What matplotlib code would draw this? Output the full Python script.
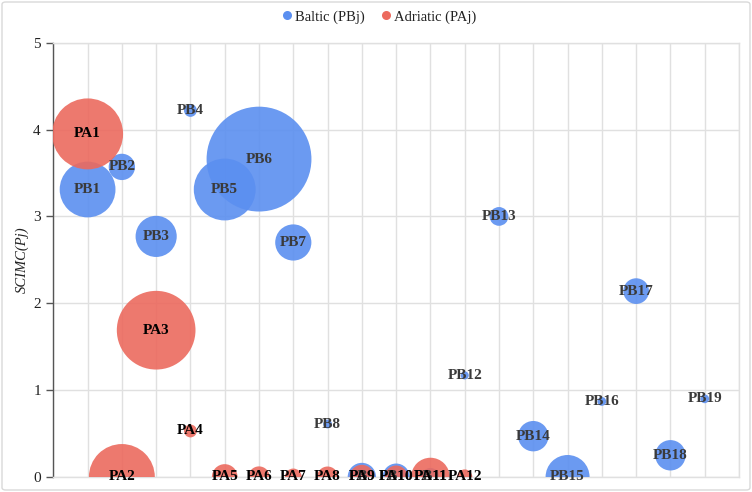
import matplotlib
matplotlib.use("Agg")
import matplotlib.pyplot as plt
from matplotlib.patches import FancyBboxPatch
from matplotlib.lines import Line2D

# Baltic series
baltic_labels = ["PB1", "PB2", "PB3", "PB4", "PB5", "PB6", "PB7", "PB8", "PB9", "PB10",
                 "PB11", "PB12", "PB13", "PB14", "PB15", "PB16", "PB17", "PB18", "PB19"]
baltic_x = list(range(1, 20))
baltic_y = [3.31, 3.57, 2.77, 4.22, 3.31, 3.66, 2.70, 0.61, 0.0, 0.0,
            0.0, 1.17, 3.00, 0.47, 0.0, 0.87, 2.14, 0.25, 0.90]
baltic_size = [28.3, 6.3, 15.4, 1.5, 34.8, 100.0, 11.9, 0.7, 7.3, 6.6,
               3.0, 0.6, 3.2, 8.4, 17.6, 0.7, 6.0, 8.4, 0.7]

# Adriatic series
adriatic_labels = ["PA1", "PA2", "PA3", "PA4", "PA5", "PA6", "PA7", "PA8", "PA9", "PA10",
                   "PA11", "PA12"]
adriatic_x = list(range(1, 13))
adriatic_y = [3.95, 0.0, 1.69, 0.53, 0.0, 0.0, 0.0, 0.0, 0.0, 0.0, 0.0, 0.0]
adriatic_size = [45.8, 39.5, 56.3, 1.5, 6.0, 4.1, 2.6, 4.0, 5.4, 4.8, 13.5, 2.1]

series_names = ["Baltic (PBj)", "Adriatic (PAj)"]
y_ticks = [0, 1, 2, 3, 4, 5]

blue = "#5B8FF0"
red = "#EC6A5E"
SCALE = 57.0
FAM = ["Liberation Serif", "DejaVu Serif"]

plt.rcParams['font.family'] = 'serif'
plt.rcParams['font.serif'] = ['Liberation Serif', 'DejaVu Serif']

fig = plt.figure(figsize=(7.52, 4.92), dpi=100)
ax = fig.add_axes([53.3 / 752, 15 / 492, (739 - 53.3) / 752, (477 - 42.7) / 492])

ax.scatter(baltic_x, baltic_y, s=[v * SCALE for v in baltic_size], color=blue,
           alpha=0.9, linewidths=0, zorder=3)
ax.scatter(adriatic_x, adriatic_y, s=[v * SCALE for v in adriatic_size], color=red,
           alpha=0.9, linewidths=0, zorder=4)

for lab, x, y in zip(baltic_labels, baltic_x, baltic_y):
    ax.text(x, y, lab, ha="center", va="center", fontsize=11, fontweight="bold",
            family=FAM, color="#3a3a3a", zorder=5, clip_on=False)
for lab, x, y in zip(adriatic_labels, adriatic_x, adriatic_y):
    ax.text(x, y, lab, ha="center", va="center", fontsize=11, fontweight="bold",
            family=FAM, color="#000000", zorder=6, clip_on=False)

ax.set_xlim(0, 20)
ax.set_ylim(0, 5)
ax.set_xticks(range(0, 21))
ax.set_xticklabels([])
ax.tick_params(axis="x", length=0)
ax.set_yticks(y_ticks)
ax.set_yticklabels([str(t) for t in y_ticks], fontsize=11, color="#222222", family=FAM)
ax.tick_params(axis="y", length=5, color="#555555", width=1, pad=4)
ax.grid(True, color="#e0e0e0", linewidth=1, zorder=0)
ax.set_axisbelow(True)
for side in ["top", "right", "bottom"]:
    ax.spines[side].set_color("#e0e0e0")
    ax.spines[side].set_linewidth(1)
ax.spines["left"].set_color("#555555")
ax.spines["left"].set_linewidth(1)
ax.set_ylabel("SCIMC(Pj)", fontsize=10.5, style="italic", color="#222222", labelpad=3,
              family=FAM)

handles = [Line2D([0], [0], marker="o", linestyle="", markersize=6.5, markerfacecolor=blue,
                  markeredgewidth=0),
           Line2D([0], [0], marker="o", linestyle="", markersize=6.5, markerfacecolor=red,
                  markeredgewidth=0)]
fig.legend(handles, series_names, loc="center", bbox_to_anchor=(378 / 752, 1 - 17 / 492),
           ncol=2, frameon=False, prop={"family": FAM, "size": 10.5}, handletextpad=0.05,
           columnspacing=0.9, handlelength=1.0, labelcolor="#222222")

border = FancyBboxPatch((2 / 752, 2 / 492), 1 - 4 / 752, 1 - 4 / 492,
                        boxstyle="round,pad=0,rounding_size=0.005", transform=fig.transFigure,
                        fill=False, edgecolor="#d9d9d9", linewidth=1)
fig.patches.append(border)

fig.savefig("out.png", dpi=100)
